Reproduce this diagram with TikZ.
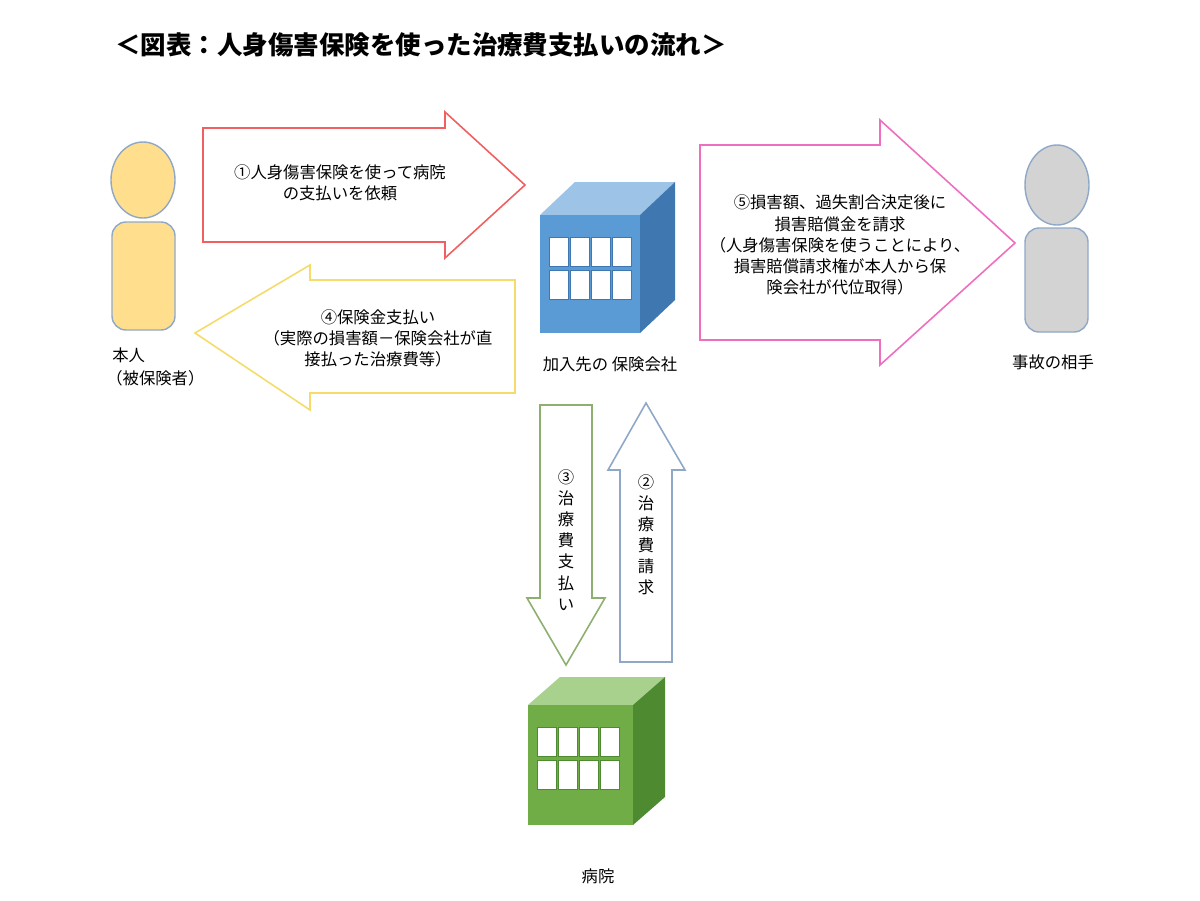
\documentclass[tikz,border=0pt]{standalone}
\usepackage{fontspec}
\usetikzlibrary{shapes.geometric}
\setmainfont{Noto Sans CJK JP}
\begin{document}
\begin{tikzpicture}[x=0.02cm,y=-0.02cm,
  lbl/.style={font=\fontsize{9.3}{12}\selectfont,align=center,inner sep=0},
  arr/.style={line width=0.9pt,fill=white,line join=miter}]
\useasboundingbox (0,0) rectangle (1200,900);
\fill[white] (0,0) rectangle (1200,900);
\node[font=\bfseries\fontsize{14.5}{17}\selectfont,anchor=west,inner sep=0] (title) at (115,45) {＜図表：人身傷害保険を使った治療費支払いの流れ＞};
% persons
\definecolor{pY}{HTML}{FFDF8E}\definecolor{pB}{HTML}{8FA8C8}
\node[ellipse,draw=pB,fill=pY,minimum width=64*0.02cm,minimum height=76*0.02cm,line width=0.8pt] (h1) at (143,180) {};
\draw[draw=pB,fill=pY,rounded corners=8,line width=0.8pt] (112,222) rectangle (175,330);
\node[lbl,anchor=west] (l1) at (112,355) {本人};
\node[lbl,anchor=west] (l1b) at (106,378) {（被保険者）};
\definecolor{pG}{HTML}{D3D3D3}
\node[ellipse,draw=pB,fill=pG,minimum width=64*0.02cm,minimum height=80*0.02cm,line width=0.8pt] (h2) at (1057,185) {};
\draw[draw=pB,fill=pG,rounded corners=8,line width=0.8pt] (1025,228) rectangle (1088,332);
\node[lbl] (l2) at (1053,362) {事故の相手};
% arrows
\definecolor{aR}{HTML}{F06060}\definecolor{aY}{HTML}{F5DC6A}\definecolor{aP}{HTML}{EE6FC0}
\definecolor{aG}{HTML}{8DB070}\definecolor{aB}{HTML}{8FA8C8}
\draw[arr,draw=aR] (203,128)--(445,128)--(445,112)--(525,185)--(445,258)--(445,242)--(203,242)--cycle;
\node[lbl] (t1) at (340,183) {①人身傷害保険を使って病院\\の支払いを依頼};
\draw[arr,draw=aY] (515,280)--(310,280)--(310,265)--(195,333)--(310,410)--(310,393)--(515,393)--cycle;
\node[lbl] (t4) at (378,338) {④保険金支払い\\（実際の損害額－保険会社が直\\接払った治療費等）};
\draw[arr,draw=aP] (700,145)--(880,145)--(880,120)--(1015,243)--(880,365)--(880,340)--(700,340)--cycle;
\node[lbl] (t5) at (840,245) {⑤損害額、過失割合決定後に\\損害賠償金を請求\\（人身傷害保険を使うことにより、\\損害賠償請求権が本人から保\\険会社が代位取得）};
\draw[arr,draw=aG] (540,405)--(592,405)--(592,598)--(605,598)--(566,665)--(527,598)--(540,598)--cycle;
\node[lbl] (t3) at (566,540) {③\\治\\療\\費\\支\\払\\い};
\draw[arr,draw=aB] (620,662)--(672,662)--(672,470)--(685,470)--(646,403)--(608,470)--(620,470)--cycle;
\node[lbl] (t2) at (646,535) {②\\治\\療\\費\\請\\求};
% cubes
\definecolor{bF}{HTML}{5B9BD5}\definecolor{bT}{HTML}{9DC3E6}\definecolor{bS}{HTML}{3F78B0}
\definecolor{gF}{HTML}{70AD47}\definecolor{gT}{HTML}{A9D18E}\definecolor{gS}{HTML}{4E8A30}
\newcommand{\mycube}[7]{% x y w h dx dy prefix
  \fill[#7T] (#1,#2)--++(#5,-#6)--++(#3,0)--++(-#5,#6)--cycle;
  \fill[#7S] (#1+#3,#2)--++(#5,-#6)--++(0,#4)--++(-#5,#6)--cycle;
  \fill[#7F] (#1,#2) rectangle ++(#3,#4);
  \foreach \i in {0,...,3}{\foreach \j in {0,1}{
    \draw[fill=white,draw=#7S,line width=0.5pt] (#1+9+\i*21,#2+22+\j*33) rectangle ++(19,29);}}
}
\mycube{540}{215}{100}{118}{35}{33}{b}
\node[lbl] (l3) at (610,364) {加入先の 保険会社};
\mycube{528}{705}{105}{120}{32}{28}{g}
\node[lbl] (l4) at (598,876) {病院};
\end{tikzpicture}
\end{document}
